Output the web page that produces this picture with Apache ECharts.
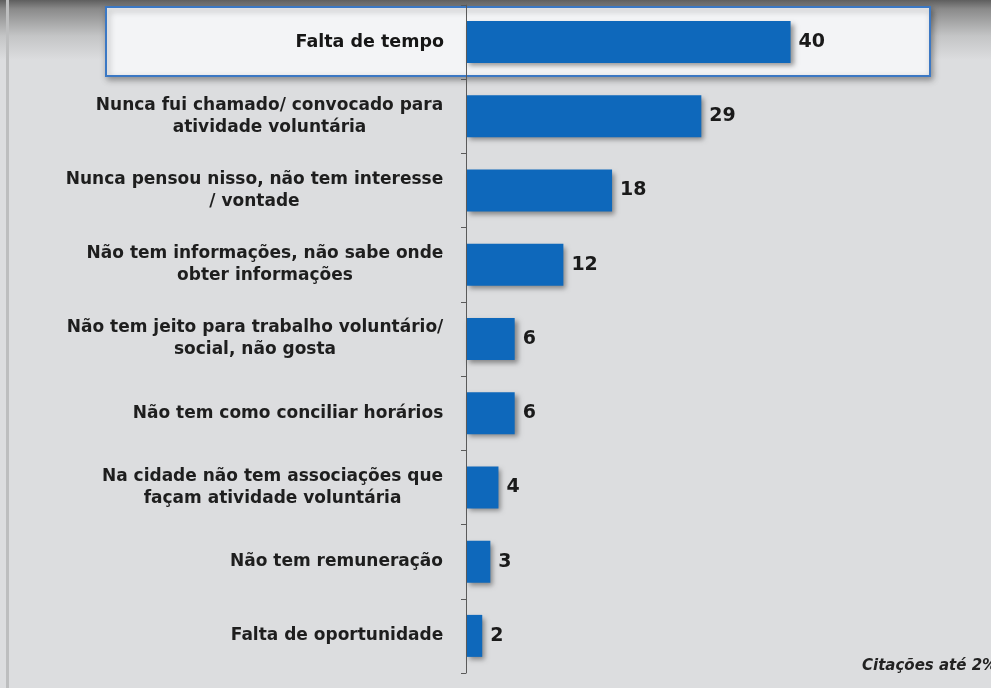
<!DOCTYPE html>
<html>
<head>
<meta charset="utf-8">
<title>Motivos</title>
<script src="https://cdn.jsdelivr.net/npm/echarts@6/dist/echarts.min.js"></script>
<style>
  *{margin:0;padding:0;}
  body{background:#dcdddf;}
  #main{width:991px;height:688px;}
</style>
</head>
<body>
<div id="main"></div>
<script>
// dados
var categorias = [
  'Falta de tempo',
  'Nunca fui chamado/ convocado para\natividade voluntária',
  'Nunca pensou nisso, não tem interesse\n/ vontade',
  'Não tem informações, não sabe onde\nobter informações',
  'Não tem jeito para trabalho voluntário/\nsocial, não gosta',
  'Não tem como conciliar horários',
  'Na cidade não tem associações que\nfaçam atividade voluntária',
  'Não tem remuneração',
  'Falta de oportunidade'
];
var valores = [40, 29, 18, 12, 6, 6, 4, 3, 2];
var nota = 'Citações até 2%';

var fonte = '"DejaVu Sans", Verdana, sans-serif';
var tamLabel = 17;

// mede a linha mais larga para centralizar as linhas do rótulo
var ctx = document.createElement('canvas').getContext('2d');
ctx.font = 'bold ' + tamLabel + 'px "DejaVu Sans"';
var rich = {
  big: {fontFamily: fonte, fontWeight: 'bold', fontSize: 17.5, color: '#161616'}
};
categorias.forEach(function (c, i) {
  var w = 0;
  c.split('\n').forEach(function (l) { w = Math.max(w, ctx.measureText(l).width); });
  rich['r' + i] = {
    width: Math.ceil(w) + 1,
    align: 'center',
    fontFamily: fonte,
    fontWeight: 'bold',
    fontSize: tamLabel,
    lineHeight: 22,
    color: '#1e1e1e'
  };
});

var chart = echarts.init(document.getElementById('main'));

var option = {
  backgroundColor: '#dcdddf',
  animation: false,
  graphic: [
    // faixa escura no topo
    {
      type: 'rect', z: -20,
      shape: {x: 0, y: 0, width: 991, height: 60},
      style: {
        fill: new echarts.graphic.LinearGradient(0, 0, 0, 1, [
          {offset: 0, color: '#5e5e5e'},
          {offset: 0.15, color: '#8a8a8a'},
          {offset: 0.6, color: '#c4c5c6'},
          {offset: 1, color: '#dcdddf'}
        ])
      }
    },
    // borda esquerda
    {
      type: 'rect', z: -19,
      shape: {x: 6, y: 0, width: 3, height: 688},
      style: {fill: '#bdbebf'}
    },
    // destaque do primeiro item
    {
      type: 'rect', z: -5,
      shape: {x: 106, y: 7, width: 824, height: 69},
      style: {
        fill: '#f3f4f6',
        stroke: '#3b78c4',
        lineWidth: 2,
        shadowBlur: 6,
        shadowOffsetX: 2,
        shadowOffsetY: 3,
        shadowColor: 'rgba(0,0,0,0.35)'
      }
    },
    {
      type: 'text', z: 10,
      left: 862, top: 659,
      style: {
        text: nota,
        fill: '#222',
        font: 'italic bold 15px "DejaVu Sans", sans-serif'
      }
    }
  ],
  grid: {
    left: 466,
    right: 30,
    top: 5,
    bottom: 15
  },
  xAxis: {
    type: 'value',
    min: 0,
    max: 61,
    show: false
  },
  yAxis: {
    type: 'category',
    inverse: true,
    data: categorias,
    axisLine: {show: true, lineStyle: {color: '#5a5a5a', width: 1}},
    axisTick: {show: true, length: 5, lineStyle: {color: '#5a5a5a'}},
    axisLabel: {
      margin: 22,
      align: 'right',
      formatter: function (v, i) {
        if (i === 0) return '{big|' + v + '}';
        return v.split('\n').map(function (l) {
          return '{r' + i + '|' + l + '}';
        }).join('\n');
      },
      rich: rich
    },
    z: 5
  },
  series: [{
    type: 'bar',
    data: valores,
    barWidth: 42,
    itemStyle: {
      color: '#0e68bb',
      shadowBlur: 5,
      shadowOffsetX: 3,
      shadowOffsetY: 3,
      shadowColor: 'rgba(0,0,0,0.4)'
    },
    label: {
      show: true,
      position: 'right',
      distance: 8,
      color: '#1a1a1a',
      fontFamily: fonte,
      fontWeight: 'bold',
      fontSize: 19
    }
  }]
};

chart.setOption(option);
</script>
</body>
</html>
